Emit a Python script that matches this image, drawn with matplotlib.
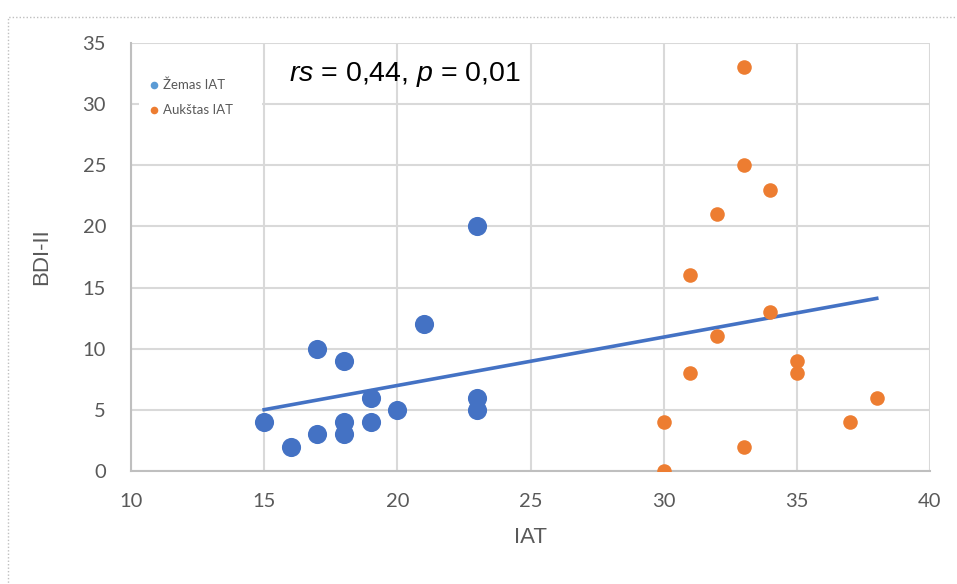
import numpy as np
import matplotlib.pyplot as plt
from matplotlib.patches import Rectangle

plt.rcParams["mathtext.fontset"] = "custom"
plt.rcParams["mathtext.it"] = "Liberation Sans:italic"
plt.rcParams["mathtext.rm"] = "Liberation Sans"

# Žemas IAT (low) group
low_iat = [15, 16, 17, 17, 18, 18, 18, 19, 19, 20, 21, 23, 23, 23]
low_bdi = [4, 2, 3, 10, 9, 4, 3, 6, 4, 5, 12, 20, 6, 5]

# Aukštas IAT (high) group
high_iat = [30, 30, 31, 31, 32, 32, 33, 33, 33, 34, 34, 35, 35, 37, 38]
high_bdi = [4, 0, 16, 8, 21, 11, 33, 25, 2, 23, 13, 9, 8, 4, 6]

x_ticks = [10, 15, 20, 25, 30, 35, 40]
y_ticks = [0, 5, 10, 15, 20, 25, 30, 35]

BLUE = "#4472C4"
ORANGE = "#ED7D31"
GRID = "#D9D9D9"
TEXT = "#595959"

fig = plt.figure(figsize=(9.57, 5.84), dpi=100)
ax = fig.add_axes([131 / 957, 1 - 471 / 584, (930 - 131) / 957, (471 - 43) / 584])

# dotted outline of the chart area
fig.patches.append(Rectangle((8 / 957, -0.1), 1.1, 1 - 17 / 584 + 0.1,
                             transform=fig.transFigure, fill=False,
                             ec="#BFBFBF", lw=1, ls=(0, (1, 1.5))))

ax.scatter(low_iat, low_bdi, s=190, color=BLUE, zorder=3, lw=0)
ax.scatter(high_iat, high_bdi, s=110, color=ORANGE, zorder=3, lw=0)

# linear trend over all points
all_x = np.array(low_iat + high_iat)
all_y = np.array(low_bdi + high_bdi)
k, b = np.polyfit(all_x, all_y, 1)
xs = np.array([all_x.min(), all_x.max()])
ax.plot(xs, k * xs + b, color=BLUE, lw=2.6, zorder=2)

ax.set_xlim(10, 40)
ax.set_ylim(0, 35)
ax.set_xticks(x_ticks)
ax.set_yticks(y_ticks)
ax.grid(True, color=GRID, lw=1.5, zorder=0)
ax.set_axisbelow(True)
for side in ["top", "right"]:
    ax.spines[side].set_visible(False)
for side in ["left", "bottom"]:
    ax.spines[side].set_color("#BFBFBF")
    ax.spines[side].set_linewidth(1.5)
ax.tick_params(length=0, labelsize=14.5, colors=TEXT)
ax.tick_params(axis="x", pad=16)
ax.tick_params(axis="y", pad=18)
for lab in ax.get_xticklabels() + ax.get_yticklabels():
    lab.set_family("Lato")

ax.set_xlabel("IAT", fontsize=16, color=TEXT, labelpad=12, family="Liberation Sans")
ax.set_ylabel("BDI-II", fontsize=16, color=TEXT, labelpad=22, family="Liberation Sans")

# legend
ax.add_patch(Rectangle((10.3, 26.9), 4.6, 6.0, fc="white", ec="none", zorder=1))
ax.scatter([10.85], [31.6], s=30, color="#5B9BD5", zorder=3, lw=0)
ax.scatter([10.85], [29.5], s=30, color=ORANGE, zorder=3, lw=0)
ax.text(11.2, 31.6, "Žemas IAT", fontsize=9.5, color=TEXT, va="center", family="Lato")
ax.text(11.2, 29.5, "Aukštas IAT", fontsize=9.5, color=TEXT, va="center", family="Lato")

ax.text(15.95, 32.4, r"$rs$ = 0,44, $p$ = 0,01", fontsize=20.5,
        color="black", va="center", family="Liberation Sans")

fig.savefig("out.png", dpi=100, facecolor="white")
